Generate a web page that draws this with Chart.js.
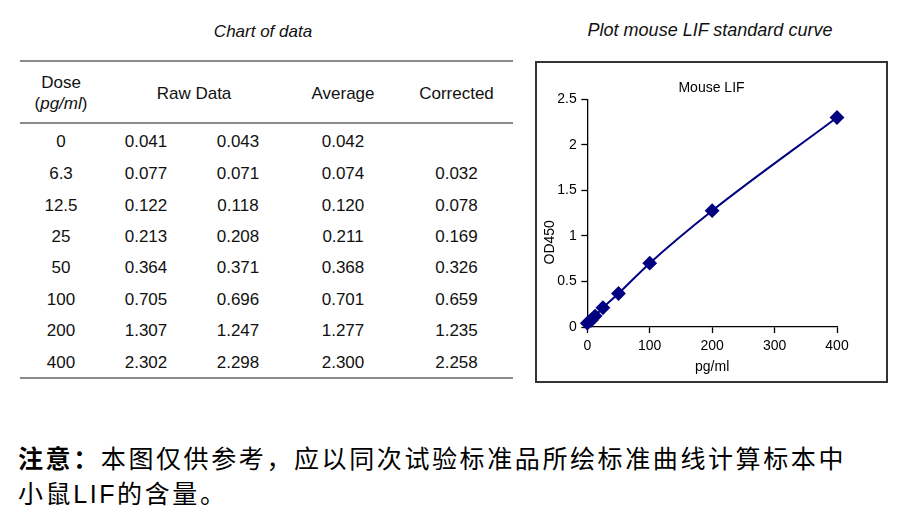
<!DOCTYPE html>
<html>
<head>
<meta charset="utf-8">
<script src="https://cdn.jsdelivr.net/npm/chart.js@4"></script>
<style>
  body { margin: 0; background: #fff; width: 919px; height: 530px; position: relative; overflow: hidden;
         font-family: "Liberation Sans", Arial, sans-serif; color: #111; }
  .ttl { position: absolute; font-style: italic; white-space: nowrap; transform: translate(-50%, -50%); }
  #tbl { position: absolute; left: 20px; top: 60px; width: 493px; border-collapse: collapse; table-layout: fixed;
         font-size: 17px; }
  #tbl td, #tbl th { padding: 4px 0 0 0; text-align: center; font-weight: normal; }
  #tbl thead tr { height: 62px; border-top: 2px solid #8c8c8c; border-bottom: 2px solid #8c8c8c; }
  #tbl thead th { line-height: 20.7px; }
  #tbl tbody tr { height: 31.4px; }
  #tbl tbody tr:first-child { height: 33.6px; }
  #tbl tbody tr:last-child { height: 33.4px; border-bottom: 2px solid #8c8c8c; }
  #box { position: absolute; left: 535px; top: 61px; width: 349px; height: 318px; border: 2px solid #333; }
  #note { position: absolute; left: 18px; top: 442px; font-family: "Liberation Sans", "Noto Sans CJK SC", sans-serif;
          font-size: 25px; line-height: 35px; letter-spacing: 2.6px; white-space: nowrap; color: #000; }
  #note b { font-weight: bold; }
</style>
</head>
<body>
<div class="ttl" style="left:263px; top:32px; font-size:17px;">Chart of data</div>
<div class="ttl" style="left:710px; top:30px; font-size:18px;">Plot mouse LIF standard curve</div>

<table id="tbl">
  <colgroup><col style="width:82px"><col style="width:88px"><col style="width:96px"><col style="width:114px"><col style="width:113px"></colgroup>
  <thead>
    <tr><th>Dose<br>(<i>pg/ml</i>)</th><th colspan="2">Raw Data</th><th>Average</th><th>Corrected</th></tr>
  </thead>
  <tbody id="rows"></tbody>
</table>

<div id="box"><canvas id="js--curve" width="349" height="318"></canvas></div>

<div id="note"><b>注意：</b>本图仅供参考，应以同次试验标准品所绘标准曲线计算标本中<br>小鼠LIF的含量。</div>

<script>
const doses = [0, 6.3, 12.5, 25, 50, 100, 200, 400];
const raw1 = [0.041, 0.077, 0.122, 0.213, 0.364, 0.705, 1.307, 2.302];
const raw2 = [0.043, 0.071, 0.118, 0.208, 0.371, 0.696, 1.247, 2.298];
const average = [0.042, 0.074, 0.120, 0.211, 0.368, 0.701, 1.277, 2.300];
const corrected = [null, 0.032, 0.078, 0.169, 0.326, 0.659, 1.235, 2.258];

// table
const body = document.getElementById("rows");
for (let i = 0; i < doses.length; i++) {
  const tr = document.createElement("tr");
  const cells = [String(doses[i]), raw1[i].toFixed(3), raw2[i].toFixed(3), average[i].toFixed(3),
                 corrected[i] === null ? "" : corrected[i].toFixed(3)];
  cells.forEach(function (c) {
    const td = document.createElement("td");
    td.textContent = c;
    tr.appendChild(td);
  });
  body.appendChild(tr);
}

// curve
const points = doses.map(function (d, i) { return { x: d, y: average[i] }; });
const font = { family: "'Liberation Sans', Arial, sans-serif", size: 14, weight: 'normal' };

const config = {
  type: 'scatter',
  data: {
    datasets: [{
      label: "Mouse LIF",
      data: points,
      showLine: true,
      clip: false,
      borderColor: '#000080',
      backgroundColor: '#000080',
      borderWidth: 2,
      cubicInterpolationMode: 'monotone',
      pointStyle: 'rectRot',
      pointRadius: 6,
      pointHoverRadius: 6
    }]
  },
  options: {
    responsive: false,
    animation: false,
    plugins: {
      legend: { display: false },
      tooltip: { enabled: false },
      title: { display: true, text: 'Mouse LIF', color: '#000', font: font, padding: { top: 16.6, bottom: 2.9 } }
    },
    scales: {
      x: {
        type: 'linear', min: 0, max: 400,
        ticks: { stepSize: 100, color: '#000', font: font, padding: 5 },
        grid: { drawOnChartArea: false, tickLength: 6, tickColor: '#000', tickWidth: 1.3 },
        border: { color: '#000', width: 1.3 },
        title: { display: true, text: 'pg/ml', color: '#000', font: font, padding: { top: 0, bottom: 5 } },
        afterFit: function (s) { s.height = 54; }
      },
      y: {
        type: 'linear', min: 0, max: 2.5,
        ticks: { stepSize: 0.5, color: '#000', font: font, padding: 4.6,
                 callback: function (v) { return String(v); } },
        grid: { drawOnChartArea: false, tickLength: 6, tickColor: '#000', tickWidth: 1.3 },
        border: { color: '#000', width: 1.3 },
        title: { display: true, text: 'OD450               ', color: '#000', font: font, padding: { top: 4.6, bottom: 0 } },
        afterFit: function (s) { s.width = 50.3; }
      },
      // empty right-hand space, keeps the title centred over the plot
      spare: {
        type: 'linear', position: 'right',
        ticks: { display: false },
        grid: { display: false },
        border: { display: false },
        afterFit: function (s) { s.width = 49; }
      }
    }
  }
};

const chart1 = new Chart(document.getElementById("js--curve"), config);
</script>
</body>
</html>
